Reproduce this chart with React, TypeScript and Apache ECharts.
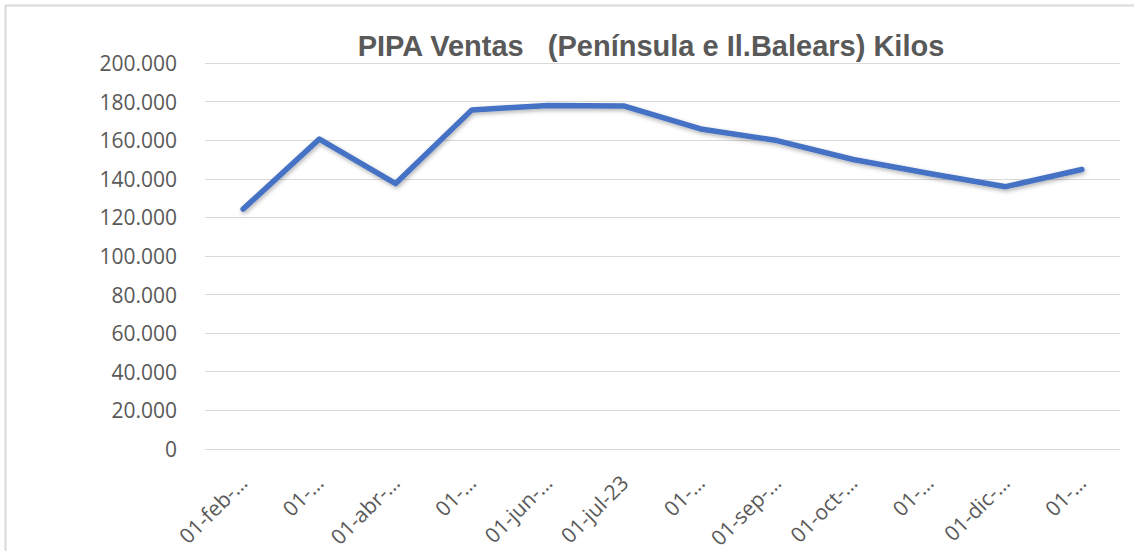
import React, { useEffect, useRef } from "react";
import * as echarts from "echarts";

const categories = [
  "01-feb-23", "01-mar-23", "01-abr-23", "01-may-23", "01-jun-23", "01-jul-23",
  "01-ago-23", "01-sep-23", "01-oct-23", "01-nov-23", "01-dic-23", "01-ene-24",
];
const tickLabels = [
  "01-feb-…", "01-…", "01-abr-…", "01-…", "01-jun-…", "01-jul-23",
  "01-…", "01-sep-…", "01-oct-…", "01-…", "01-dic-…", "01-…",
];
const ventasKilos = [
  124300, 160600, 137500, 175700, 178000, 177700,
  165800, 159800, 150000, 142700, 135900, 144800,
];
const titleText = "PIPA Ventas   (Península e Il.Balears) Kilos";

function fmtThousands(v: number): string {
  return String(Math.round(v)).replace(/\B(?=(\d{3})+(?!\d))/g, ".");
}

export default function App() {
  const ref = useRef<HTMLDivElement>(null);
  useEffect(() => {
    if (!ref.current) return;
    const chart = echarts.init(ref.current, null, { renderer: "svg" });
    chart.setOption({
      animation: false,
      backgroundColor: "#ffffff",
      textStyle: { fontFamily: "Open Sans" },
      title: {
        text: titleText,
        left: 646,
        textAlign: "center",
        top: 26,
        textStyle: {
          fontFamily: "Liberation Sans",
          fontSize: 29,
          fontWeight: "bold",
          color: "#595959",
        },
      },
      graphic: [
        {
          type: "rect",
          shape: { x: 5.5, y: 5.5, width: 1200, height: 700 },
          style: { fill: "none", stroke: "#d9d9d9", lineWidth: 2 },
          silent: true,
        },
      ],
      grid: { left: 205, right: 14, top: 63, bottom: 102, containLabel: false },
      xAxis: {
        type: "category",
        data: categories,
        boundaryGap: true,
        axisLine: { show: true, lineStyle: { color: "#d9d9d9", width: 1 } },
        axisTick: { show: false },
        axisLabel: {
          interval: 0,
          rotate: 45,
          margin: 30,
          fontSize: 21,
          color: "#595959",
          fontFamily: "Open Sans",
          formatter: (_v: string, i: number) => tickLabels[i],
        },
      },
      yAxis: {
        type: "value",
        min: 0,
        max: 200000,
        interval: 20000,
        axisLine: { show: false },
        axisTick: { show: false },
        splitLine: { lineStyle: { color: "#d9d9d9", width: 1 } },
        axisLabel: {
          margin: 28,
          fontSize: 21,
          color: "#595959",
          fontFamily: "Open Sans",
          formatter: (v: number) => fmtThousands(v),
        },
      },
      series: [
        {
          type: "line",
          data: ventasKilos,
          showSymbol: false,
          symbol: "none",
          lineStyle: {
            color: "#4472C4",
            width: 5.5,
            cap: "round",
            join: "round",
            shadowColor: "rgba(0,0,0,0.3)",
            shadowBlur: 4,
            shadowOffsetY: 2,
            shadowOffsetX: 1,
          },
          itemStyle: { color: "#4472C4" },
        },
      ],
    });
    return () => chart.dispose();
  }, []);
  return (
    <div
      ref={ref}
      style={{ position: "fixed", left: 0, top: 0, width: 1134, height: 551 }}
    />
  );
}
